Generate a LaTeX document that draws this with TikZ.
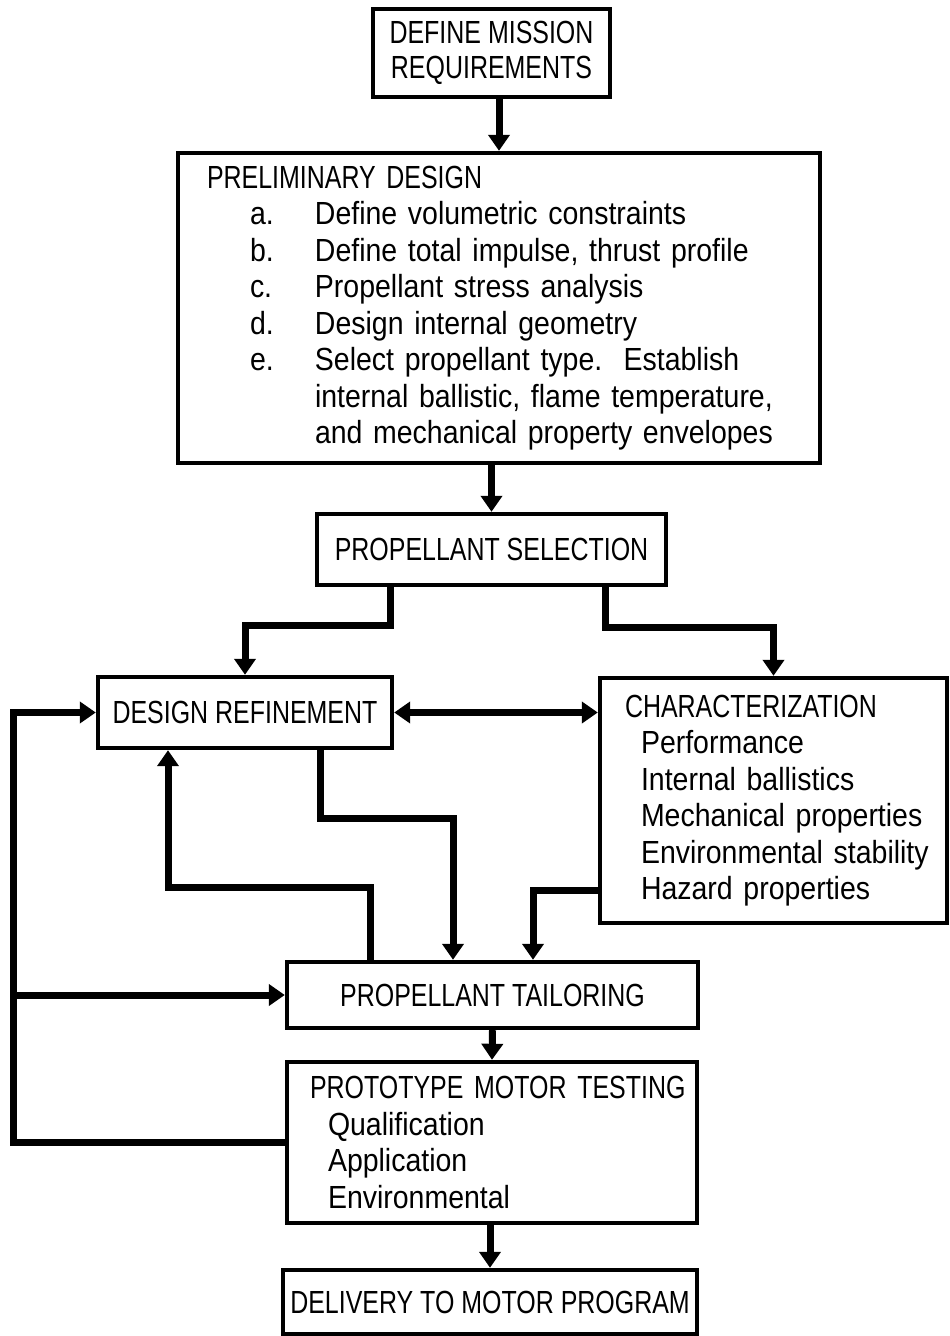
\documentclass[tikz,border=0pt]{standalone}
\usepackage{fontspec}
\setmainfont{Liberation Sans}[FakeStretch=0.89]
\newfontfamily\capsfont{Liberation Sans}[FakeStretch=0.78]
\usetikzlibrary{arrows.meta}

\newcommand{\lstitem}[2]{\mbox{\hspace*{21.5pt}\makebox[32.5pt][l]{#1}#2}}
\newcommand{\lstcont}[1]{\mbox{\hspace*{54pt}#1}}
\newcommand{\indln}[2]{\mbox{\hspace*{#1}#2}}

\tikzset{
  box/.style={draw, line width=2.2pt, inner sep=0pt, align=center, font=\fontsize{16pt}{18.25pt}\selectfont},
  capsbox/.style={box, font=\fontsize{16pt}{17.5pt}\selectfont\capsfont},
  listbox/.style={box, align=left},
  flow/.style={line width=3.5pt, -{Triangle[width=10.5pt,length=8pt]}},
  both/.style={line width=3.5pt, {Triangle[width=10.5pt,length=8pt]}-{Triangle[width=10.5pt,length=8pt]}}
}

\begin{document}
\begin{tikzpicture}[x=0.5pt, y=-0.5pt]

\useasboundingbox (0,0) rectangle (949,1336);

\node [capsbox, minimum width=118.5pt, minimum height=44pt] (req) at (491.5,53) {DEFINE MISSION\\REQUIREMENTS};
\node [listbox, minimum width=321pt, minimum height=155pt, inner xsep=14.5pt, text width=292pt] (pre) at (499,308) {\mbox{\capsfont PRELIMINARY DESIGN}\\
\lstitem{a.}{Define volumetric constraints}\\
\lstitem{b.}{Define total impulse, thrust profile}\\
\lstitem{c.}{Propellant stress analysis}\\
\lstitem{d.}{Design internal geometry}\\
\lstitem{e.}{Select propellant type.\ \ Establish}\\
\lstcont{internal ballistic, flame temperature,}\\
\lstcont{and mechanical property envelopes}};
\node [capsbox, minimum width=174.5pt, minimum height=35.5pt] (sel) at (491.5,549.5) {PROPELLANT SELECTION};
\node [capsbox, minimum width=147pt, minimum height=35.5pt] (ref) at (245,712.5) {DESIGN REFINEMENT};
\node [listbox, minimum width=173.5pt, minimum height=122.5pt, inner xsep=12.5pt, text width=148.5pt] (cha) at (773.5,800.5) {\mbox{\capsfont CHARACTERIZATION}\\
\indln{8pt}{Performance}\\
\indln{8pt}{Internal ballistics}\\
\indln{8pt}{Mechanical properties}\\
\indln{8pt}{Environmental stability}\\
\indln{8pt}{Hazard properties}};
\node [capsbox, minimum width=205.5pt, minimum height=33pt] (tai) at (492.5,995) {PROPELLANT TAILORING};
\node [listbox, minimum width=205pt, minimum height=80.5pt, inner xsep=11.5pt, text width=182pt] (tst) at (492,1142.5) {\mbox{\capsfont PROTOTYPE MOTOR TESTING}\\
\indln{9pt}{Qualification}\\
\indln{9pt}{Application}\\
\indln{9pt}{Environmental}};
\node [capsbox, minimum width=207pt, minimum height=32pt] (del) at (490,1302) {DELIVERY TO MOTOR PROGRAM};

\coordinate (sl) at (390,625);
\coordinate (sr) at (605,627);
\coordinate (lp) at (13,712.5);
\coordinate (d1) at (320,818);
\coordinate (d2) at (453,818);
\coordinate (u1) at (370,887);
\coordinate (u2) at (168,887);
\coordinate (c1) at (533,890);

\draw [flow] (pre.north |- req.south) -- (pre.north);
\draw [flow] (sel.north |- pre.south) -- (sel.north);
\draw [flow] (sl |- sel.south) -- (sl) -| (ref.north);
\draw [flow] (sr |- sel.south) -- (sr) -| (cha.north);
\draw [both] (ref.east) -- (cha.west |- ref.east);
\draw [flow] (tst.west) -| (lp) -- (ref.west);
\draw [flow] (lp |- tai.west) -- (tai.west);
\draw [flow] (d1 |- ref.south) -- (d1) -- (d2) -- (d2 |- tai.north);
\draw [flow] (u1 |- tai.north) -- (u1) -- (u2) -- (u2 |- ref.south);
\draw [flow] (cha.west |- c1) -- (c1) -- (c1 |- tai.north);
\draw [flow] (tai.south) -- (tst.north);
\draw [flow] (del.north |- tst.south) -- (del.north);

\end{tikzpicture}
\end{document}
